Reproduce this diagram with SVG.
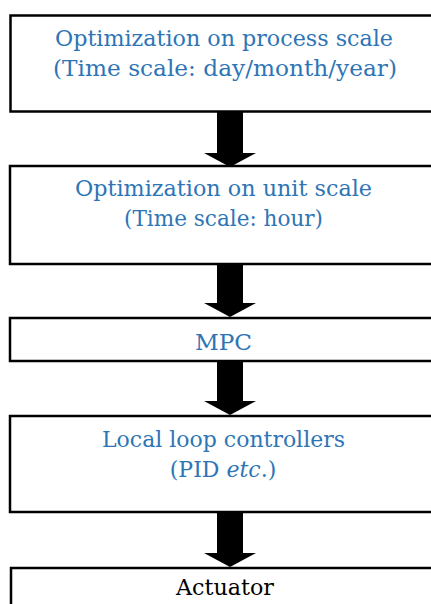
<svg xmlns="http://www.w3.org/2000/svg" width="431" height="604" viewBox="0 0 431 604">
  <style>
    .box { fill: #ffffff; stroke: #000000; stroke-width: 2.5; }
    .lbl { font-family: "DejaVu Serif", "Liberation Serif", serif; font-size: 22px; fill: #2E75B6; text-anchor: middle; }
    .dark { fill: #000000; }
    .arrow { fill: #000000; }
  </style>
  <rect width="431" height="604" fill="#ffffff"/>

  <g id="process-optimization">
    <rect class="box" x="10.5" y="15.5" width="440" height="96"/>
    <text class="lbl" x="224" y="46" textLength="338" lengthAdjust="spacingAndGlyphs">Optimization on process scale</text>
    <text class="lbl" x="225" y="76" textLength="344" lengthAdjust="spacingAndGlyphs">(Time scale: day/month/year)</text>
  </g>

  <g id="unit-optimization">
    <rect class="box" x="10" y="166" width="440" height="98"/>
    <text class="lbl" x="223.5" y="196" textLength="297" lengthAdjust="spacingAndGlyphs">Optimization on unit scale</text>
    <text class="lbl" x="223.5" y="226" textLength="199" lengthAdjust="spacingAndGlyphs">(Time scale: hour)</text>
  </g>

  <g id="mpc">
    <rect class="box" x="10" y="318" width="440" height="43"/>
    <text class="lbl" x="223.5" y="350" textLength="57" lengthAdjust="spacingAndGlyphs">MPC</text>
  </g>

  <g id="local-controllers">
    <rect class="box" x="10" y="416" width="440" height="96"/>
    <text class="lbl" x="223.5" y="447" textLength="243" lengthAdjust="spacingAndGlyphs">Local loop controllers</text>
    <text class="lbl" x="223" y="477">(PID <tspan font-style="italic">etc</tspan>.)</text>
  </g>

  <g id="actuator">
    <rect class="box" x="11" y="568" width="440" height="60"/>
    <text class="lbl dark" x="225" y="595" textLength="98" lengthAdjust="spacingAndGlyphs">Actuator</text>
  </g>

  <g id="connectors">
    <polygon class="arrow" points="217,112 243,112 243,153 256,153 230,167 204,153 217,153"/>
    <polygon class="arrow" points="217,264 243,264 243,303 256,303 230,317 204,303 217,303"/>
    <polygon class="arrow" points="217,361 243,361 243,401 256,401 230,415 204,401 217,401"/>
    <polygon class="arrow" points="217,513 243,513 243,553 256,553 230,567 204,553 217,553"/>
  </g>
</svg>
